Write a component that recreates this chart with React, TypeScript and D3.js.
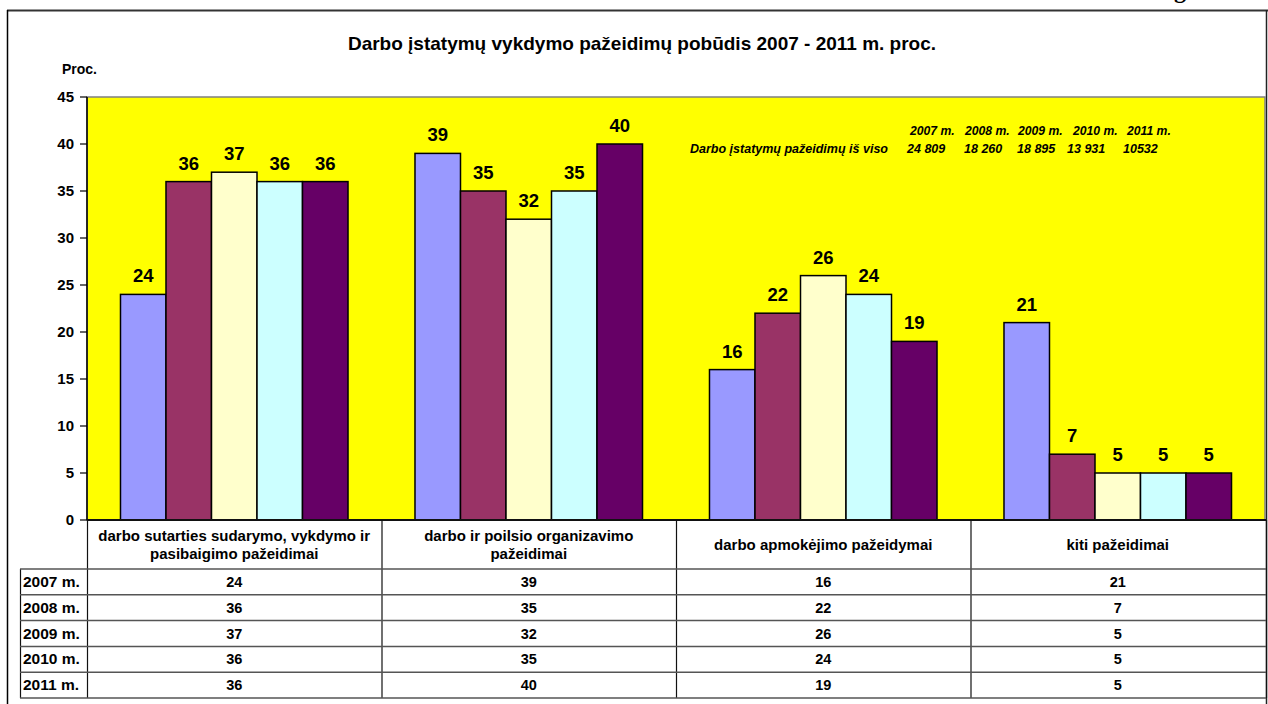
import React from "react";
import * as d3 from "d3";

const categories = [
  ["darbo sutarties sudarymo, vykdymo ir", "pasibaigimo pažeidimai"],
  ["darbo ir poilsio organizavimo", "pažeidimai"],
  ["darbo apmokėjimo pažeidymai"],
  ["kiti pažeidimai"],
];
const years = ["2007 m.", "2008 m.", "2009 m.", "2010 m.", "2011 m."];
const colors = ["#9999FF", "#993366", "#FFFFCC", "#CCFFFF", "#660066"];
const v2007 = [24, 39, 16, 21];
const v2008 = [36, 35, 22, 7];
const v2009 = [37, 32, 26, 5];
const v2010 = [36, 35, 24, 5];
const v2011 = [36, 40, 19, 5];
const series = [v2007, v2008, v2009, v2010, v2011];
const yTicks = [0, 5, 10, 15, 20, 25, 30, 35, 40, 45];
const totalsLabel = "Darbo įstatymų pažeidimų iš viso";
const totals = ["24 809", "18 260", "18 895", "13 931", "10532"];
const title = "Darbo įstatymų vykdymo pažeidimų pobūdis 2007 - 2011 m. proc.";

const W = 1268;
const H = 704;
const left = 87;
const right = 1265;
const top = 97;
const bottom = 520;
const tableRight = 1266;
const rowLabelLeft = 20;
const headerBottom = 569;
const rowH = 25.8;

export default function App() {
  const catIdx = categories.map((_, i) => String(i));
  const x0 = d3.scaleBand<string>().domain(catIdx).range([left, right]).padding(0);
  const x1 = d3
    .scaleBand<string>()
    .domain(years)
    .range([0, x0.bandwidth()])
    .paddingInner(0)
    .paddingOuter(0.736);
  const y = d3.scaleLinear().domain([0, 45]).range([bottom, top]);
  const colEdges = catIdx.map((c) => x0(c) as number).concat([tableRight]);
  const font = "Liberation Sans, Arial, sans-serif";

  const annotYearX = [910, 965, 1018, 1073, 1127];
  const annotTotX = [907, 964, 1017, 1067, 1123];

  return (
    <svg
      width={W}
      height={H}
      style={{ position: "absolute", left: 0, top: 0, background: "#fff" }}
      fontFamily={font}
    >
      {/* partial glyph at the top */}
      <text x={1174} y={-2} fontFamily="Liberation Serif, Times New Roman, serif" fontWeight="bold" fontSize={24}>
        g
      </text>
      <line x1={7} x2={W} y1={10.5} y2={10.5} stroke="#333" strokeWidth={2} />
      <line x1={7.5} x2={7.5} y1={10} y2={H} stroke="#000" strokeWidth={1.5} />
      <line x1={1266.5} x2={1266.5} y1={10} y2={H} stroke="#222" strokeWidth={1.5} />

      <text x={642} y={50} textAnchor="middle" fontWeight="bold" fontSize={19}>
        {title}
      </text>
      <text x={62} y={74} fontWeight="bold" fontSize={14}>
        Proc.
      </text>

      {/* plot area */}
      <rect x={left} y={top} width={right - left} height={bottom - top} fill="#FFFF00" stroke="#808080" strokeWidth={1.5} />

      {/* bars */}
      {series.map((vals, si) =>
        vals.map((v, ci) => {
          const bx = (x0(String(ci)) as number) + (x1(years[si]) as number);
          return (
            <rect
              key={`b${si}-${ci}`}
              x={bx}
              y={y(v)}
              width={x1.bandwidth()}
              height={bottom - y(v)}
              fill={colors[si]}
              stroke="#000"
              strokeWidth={1.5}
            />
          );
        })
      )}
      {series.map((vals, si) =>
        vals.map((v, ci) => {
          const bx = (x0(String(ci)) as number) + (x1(years[si]) as number) + x1.bandwidth() / 2;
          return (
            <text key={`l${si}-${ci}`} x={bx} y={y(v) - 12} textAnchor="middle" fontWeight="bold" fontSize={18.5}>
              {v}
            </text>
          );
        })
      )}

      {/* y axis */}
      <line x1={left} x2={left} y1={top} y2={bottom} stroke="#000" strokeWidth={1.5} />
      {yTicks.map((t) => (
        <g key={t}>
          <line x1={left - 7} x2={left} y1={y(t)} y2={y(t)} stroke="#000" strokeWidth={1.2} />
          <text x={74} y={y(t) + 5} textAnchor="end" fontWeight="bold" fontSize={15}>
            {t}
          </text>
        </g>
      ))}

      {/* annotation */}
      {years.map((yr, i) => (
        <text key={`ay${i}`} x={annotYearX[i]} y={135} fontWeight="bold" fontStyle="italic" fontSize={12.2}>
          {yr}
        </text>
      ))}
      <text x={690} y={153} fontWeight="bold" fontStyle="italic" fontSize={12.5}>
        {totalsLabel}
      </text>
      {totals.map((t, i) => (
        <text key={`at${i}`} x={annotTotX[i]} y={153} fontWeight="bold" fontStyle="italic" fontSize={12.5}>
          {t}
        </text>
      ))}

      {/* data table */}
      <line x1={left} x2={tableRight} y1={bottom} y2={bottom} stroke="#111" strokeWidth={2} />
      {colEdges.map((cx, i) => (
        <line key={`v${i}`} x1={cx + 0.5} x2={cx + 0.5} y1={bottom} y2={headerBottom + rowH * years.length} stroke="#111" strokeWidth={1.2} />
      ))}
      <line x1={rowLabelLeft + 0.5} x2={rowLabelLeft + 0.5} y1={headerBottom} y2={headerBottom + rowH * years.length} stroke="#111" strokeWidth={1.2} />
      {d3.range(years.length + 1).map((r) => (
        <line
          key={`h${r}`}
          x1={rowLabelLeft}
          x2={tableRight}
          y1={headerBottom + r * rowH}
          y2={headerBottom + r * rowH}
          stroke="#555"
          strokeWidth={1.5}
        />
      ))}
      {categories.map((lines, ci) => {
        const cx = (x0(String(ci)) as number) + x0.bandwidth() / 2;
        const midY = (bottom + headerBottom) / 2;
        return lines.map((ln, li) => (
          <text
            key={`c${ci}-${li}`}
            x={cx}
            y={midY + 5 + (li - (lines.length - 1) / 2) * 18}
            textAnchor="middle"
            fontWeight="bold"
            fontSize={15}
          >
            {ln}
          </text>
        ));
      })}
      {years.map((yr, r) => (
        <g key={`r${r}`}>
          <text x={23} y={headerBottom + r * rowH + rowH / 2 + 5} fontWeight="bold" fontSize={15.5}>
            {yr}
          </text>
          {series[r].map((v, ci) => (
            <text
              key={`t${r}-${ci}`}
              x={(x0(String(ci)) as number) + x0.bandwidth() / 2}
              y={headerBottom + r * rowH + rowH / 2 + 5}
              textAnchor="middle"
              fontWeight="bold"
              fontSize={14.5}
            >
              {v}
            </text>
          ))}
        </g>
      ))}
    </svg>
  );
}
